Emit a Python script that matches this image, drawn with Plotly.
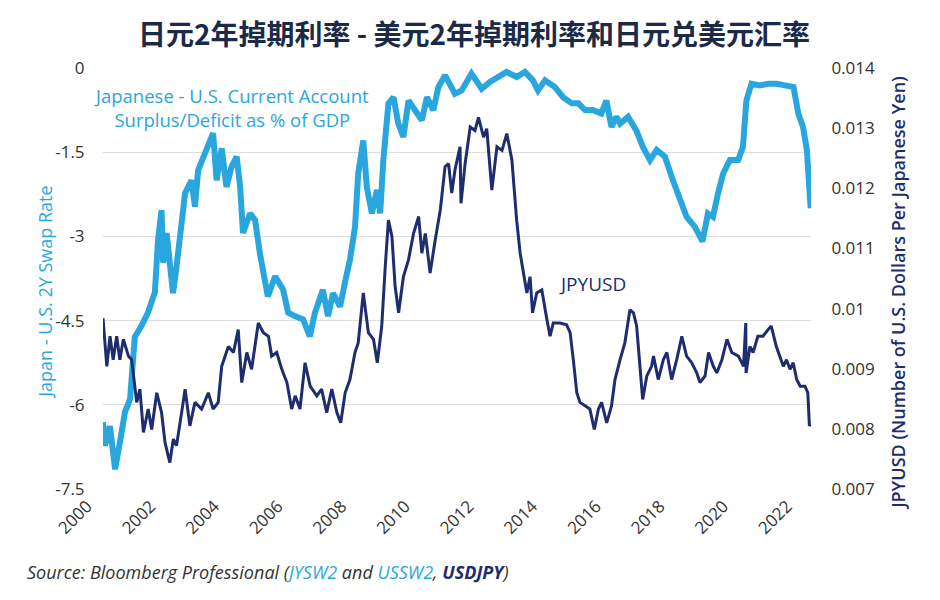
import plotly.graph_objects as go

# 日元-美元 2年掉期利差 (左轴)
swap_year = [2000.0, 2000.06, 2000.22, 2000.38, 2000.53, 2000.69, 2000.85, 2000.94, 2001.0, 2001.2,
             2001.41, 2001.63, 2001.73, 2001.84, 2001.89, 2002.0, 2002.1, 2002.2, 2002.31, 2002.47,
             2002.58, 2002.78, 2002.89, 2002.99, 2003.21, 2003.36, 2003.46, 2003.57, 2003.73, 2003.88,
             2004.04, 2004.2, 2004.31, 2004.4, 2004.62, 2004.78, 2004.93, 2005.18, 2005.41, 2005.66,
             2005.82, 2006.03, 2006.29, 2006.5, 2006.66, 2006.91, 2007.07, 2007.23, 2007.45, 2007.6,
             2007.76, 2007.92, 2008.02, 2008.18, 2008.29, 2008.45, 2008.61, 2008.71, 2008.81, 2008.97,
             2009.13, 2009.28, 2009.44, 2009.6, 2009.81, 2010.02, 2010.18, 2010.38, 2010.54, 2010.75,
             2011.06, 2011.27, 2011.58, 2011.9, 2012.16, 2012.41, 2012.68, 2013.0, 2013.26, 2013.51,
             2013.67, 2013.89, 2014.2, 2014.46, 2014.73, 2014.94, 2015.15, 2015.4, 2015.66, 2015.82,
             2015.98, 2016.13, 2016.25, 2016.5, 2016.76, 2016.97, 2017.19, 2017.4, 2017.66, 2017.91,
             2018.13, 2018.34, 2018.6, 2018.84, 2019.01, 2019.17, 2019.33, 2019.49, 2019.7, 2019.96,
             2020.11, 2020.22, 2020.38, 2020.64, 2020.91, 2021.17, 2021.43, 2021.7, 2021.85, 2022.0,
             2022.12, 2022.2, 2022.24]
swap_spread = [-6.31, -6.73, -6.38, -7.15, -6.67, -6.13, -5.90, -5.19, -4.79, -4.60,
               -4.36, -4.00, -3.06, -2.53, -3.47, -2.94, -3.42, -4.01, -3.54, -2.83,
               -2.23, -2.00, -2.47, -1.82, -1.52, -1.34, -1.16, -2.00, -1.43, -2.12,
               -1.76, -1.58, -2.12, -2.94, -2.59, -2.71, -3.30, -4.07, -3.71, -3.95,
               -4.36, -4.42, -4.48, -4.78, -4.36, -3.95, -4.42, -4.01, -4.25, -3.83,
               -3.42, -2.83, -1.88, -1.29, -2.12, -2.59, -2.17, -2.59, -1.64, -0.63,
               -0.52, -0.99, -1.23, -0.58, -0.75, -0.93, -0.52, -0.75, -0.34, -0.13,
               -0.46, -0.40, -0.10, -0.37, -0.25, -0.16, -0.07, -0.16, -0.07, -0.22,
               -0.40, -0.22, -0.34, -0.52, -0.63, -0.63, -0.75, -0.75, -0.81, -0.58,
               -1.05, -0.87, -0.99, -0.87, -1.11, -1.41, -1.64, -1.46, -1.58, -2.00,
               -2.35, -2.65, -2.83, -3.09, -2.59, -2.65, -2.23, -1.88, -1.64, -1.64,
               -1.41, -0.58, -0.28, -0.31, -0.28, -0.28, -0.31, -0.34, -0.81, -1.05,
               -1.46, -2.00, -2.50]

# JPYUSD (右轴)
fx_year = [2000.0, 2000.12, 2000.22, 2000.32, 2000.43, 2000.53, 2000.64, 2000.8, 2000.9, 2001.06,
           2001.16, 2001.27, 2001.42, 2001.53, 2001.69, 2001.84, 2001.95, 2002.1, 2002.21, 2002.31,
           2002.47, 2002.58, 2002.73, 2002.89, 2003.1, 2003.31, 2003.46, 2003.62, 2003.73, 2003.94,
           2004.1, 2004.25, 2004.36, 2004.52, 2004.67, 2004.88, 2005.04, 2005.2, 2005.3, 2005.46,
           2005.62, 2005.78, 2005.93, 2006.04, 2006.19, 2006.35, 2006.51, 2006.72, 2006.87, 2007.03,
           2007.19, 2007.35, 2007.47, 2007.61, 2007.76, 2007.92, 2008.02, 2008.18, 2008.34, 2008.5,
           2008.62, 2008.76, 2008.87, 2008.97, 2009.08, 2009.18, 2009.29, 2009.44, 2009.6, 2009.76,
           2009.92, 2010.02, 2010.13, 2010.28, 2010.44, 2010.6, 2010.75, 2010.86, 2010.96, 2011.06,
           2011.22, 2011.25, 2011.38, 2011.54, 2011.69, 2011.8, 2011.96, 2012.06, 2012.22, 2012.38,
           2012.54, 2012.69, 2012.85, 2013.0, 2013.11, 2013.21, 2013.32, 2013.42, 2013.5, 2013.63,
           2013.79, 2013.95, 2014.05, 2014.15, 2014.36, 2014.57, 2014.68, 2014.78, 2014.89, 2014.99,
           2015.15, 2015.3, 2015.44, 2015.57, 2015.67, 2015.83, 2015.98, 2016.09, 2016.25, 2016.4,
           2016.56, 2016.67, 2016.77, 2016.88, 2016.96, 2017.09, 2017.24, 2017.3, 2017.45, 2017.61,
           2017.72, 2017.87, 2018.03, 2018.19, 2018.34, 2018.5, 2018.66, 2018.76, 2018.92, 2019.03,
           2019.18, 2019.29, 2019.45, 2019.61, 2019.76, 2019.97, 2020.13, 2020.2, 2020.21, 2020.33,
           2020.43, 2020.58, 2020.74, 2020.9, 2021.0, 2021.16, 2021.27, 2021.38, 2021.48, 2021.59,
           2021.69, 2021.8, 2021.91, 2022.06, 2022.15, 2022.2, 2022.24]
jpyusd = [0.00984, 0.00904, 0.00954, 0.00915, 0.00954, 0.00915, 0.00949, 0.00921, 0.00915, 0.00844,
          0.00866, 0.00794, 0.00833, 0.00799, 0.00860, 0.00827, 0.00777, 0.00744, 0.00783, 0.00772,
          0.00827, 0.00866, 0.00805, 0.00844, 0.00833, 0.00860, 0.00833, 0.00844, 0.00904, 0.00937,
          0.00927, 0.00965, 0.00877, 0.00927, 0.00899, 0.00976, 0.00960, 0.00954, 0.00921, 0.00927,
          0.00899, 0.00877, 0.00833, 0.00855, 0.00833, 0.00910, 0.00871, 0.00855, 0.00866, 0.00827,
          0.00866, 0.00827, 0.00810, 0.00860, 0.00882, 0.00927, 0.00943, 0.01026, 0.00960, 0.00949,
          0.00910, 0.00971, 0.01070, 0.01147, 0.01120, 0.01037, 0.00993, 0.01053, 0.01081, 0.01125,
          0.01153, 0.01092, 0.01125, 0.01059, 0.01114, 0.01164, 0.01236, 0.01241, 0.01192, 0.01230,
          0.01269, 0.01175, 0.01241, 0.01302, 0.01296, 0.01318, 0.01285, 0.01299, 0.01197, 0.01269,
          0.01263, 0.01291, 0.01247, 0.01147, 0.01092, 0.01059, 0.01026, 0.01053, 0.00993, 0.01026,
          0.01031, 0.00982, 0.00954, 0.00976, 0.00976, 0.00973, 0.00960, 0.00915, 0.00860, 0.00844,
          0.00838, 0.00833, 0.00799, 0.00833, 0.00844, 0.00810, 0.00838, 0.00882, 0.00915, 0.00943,
          0.00998, 0.00993, 0.00971, 0.00904, 0.00849, 0.00888, 0.00904, 0.00921, 0.00882, 0.00915,
          0.00927, 0.00882, 0.00915, 0.00954, 0.00921, 0.00910, 0.00893, 0.00877, 0.00888, 0.00927,
          0.00904, 0.00893, 0.00915, 0.00949, 0.00927, 0.00921, 0.00904, 0.00976, 0.00893, 0.00937,
          0.00927, 0.00954, 0.00954, 0.00965, 0.00971, 0.00937, 0.00921, 0.00904, 0.00915, 0.00899,
          0.00910, 0.00882, 0.00871, 0.00871, 0.00860, 0.00805, 0.00808]

year_ticks = list(range(2000, 2023, 2))
left_ticks = [0, -1.5, -3, -4.5, -6, -7.5]
left_labels = ["0", "-1.5", "-3", "-4.5", "-6", "-7.5"]

LIGHT = "#2AA6DF"
NAVY = "#1E2D6E"
TEXT = "#333333"
FONT = "Open Sans, Noto Sans, sans-serif"

fig = go.Figure()
fig.add_trace(go.Scatter(x=swap_year, y=swap_spread, mode="lines",
                         line=dict(color=LIGHT, width=6), yaxis="y", showlegend=False))
fig.add_trace(go.Scatter(x=fx_year, y=jpyusd, mode="lines",
                         line=dict(color=NAVY, width=3), yaxis="y2", showlegend=False))

# 页面 body 有 8px 边距, 图整体缩小 8px 以对齐 940x600 窗口
fig.update_layout(
    width=932, height=592,
    paper_bgcolor="white", plot_bgcolor="white",
    margin=dict(l=95, r=129, t=60, b=111),
    font=dict(family=FONT, color=TEXT, size=16),
    title=dict(text="日元2年掉期利率 - 美元2年掉期利率和日元兑美元汇率",
               x=0.5, xanchor="center", y=0.954, yanchor="middle", yref="container",
               font=dict(family="Noto Sans CJK SC", size=28, color="#1B2A47", weight=600)),
    xaxis=dict(range=[2000, 2022.25], tickvals=year_ticks, ticktext=[str(y) for y in year_ticks],
               tickangle=-45, showgrid=False, zeroline=False, showline=False, ticks="",
               ticklabelshift=-16, ticklabelstandoff=3,
               automargin=False, tickfont=dict(size=17, color=TEXT)),
    xaxis2=dict(range=[2000, 2022.25], overlaying="x", side="top", tickvals=year_ticks,
                showticklabels=False, ticks="outside", ticklen=8, tickcolor="#DADADA",
                showgrid=False, zeroline=False, showline=False, automargin=False),
    yaxis=dict(range=[-7.5, 0], tickvals=left_ticks, ticktext=left_labels,
               showgrid=True, gridcolor="#DCDCDC", gridwidth=1, zeroline=False,
               ticks="outside", ticklen=14, tickcolor="white", automargin=False,
               tickfont=dict(size=17, color=TEXT)),
    yaxis2=dict(range=[0.007, 0.014], dtick=0.001, overlaying="y", side="right",
                showgrid=False, zeroline=False, ticks="outside", ticklen=16, tickcolor="white",
                automargin=False, tickfont=dict(size=17, color=TEXT)),
    annotations=[
        dict(x=-0.102, y=0.468, xref="paper", yref="paper", text="Japan - U.S. 2Y Swap Rate",
             textangle=-90, showarrow=False, font=dict(size=18, color=LIGHT)),
        dict(x=1.1427, y=0.466, xref="paper", yref="paper",
             text="JPYUSD (Number of U.S. Dollars Per Japanese Yen)",
             textangle=-90, showarrow=False, font=dict(size=18, color=NAVY, weight=600)),
        dict(x=2004.05, y=-0.70, xref="x", yref="y",
             text="Japanese - U.S. Current Account<br>Surplus/Deficit as % of GDP",
             showarrow=False, align="center", font=dict(size=18.5, color=LIGHT)),
        dict(x=2015.37, y=0.01041, xref="x", yref="y2", text="JPYUSD",
             showarrow=False, font=dict(size=19, color=NAVY)),
        dict(x=-0.11, y=-0.197, xref="paper", yref="paper", xanchor="left", yanchor="middle",
             text="<i>Source: Bloomberg Professional (<span style='color:%s'>JYSW2</span> and "
                  "<span style='color:%s'>USSW2</span>, <b><span style='color:%s'>USDJPY</span></b>)</i>"
                  % (LIGHT, LIGHT, NAVY),
             showarrow=False, font=dict(size=18, color=TEXT)),
    ],
)

fig.write_html("out.html")
